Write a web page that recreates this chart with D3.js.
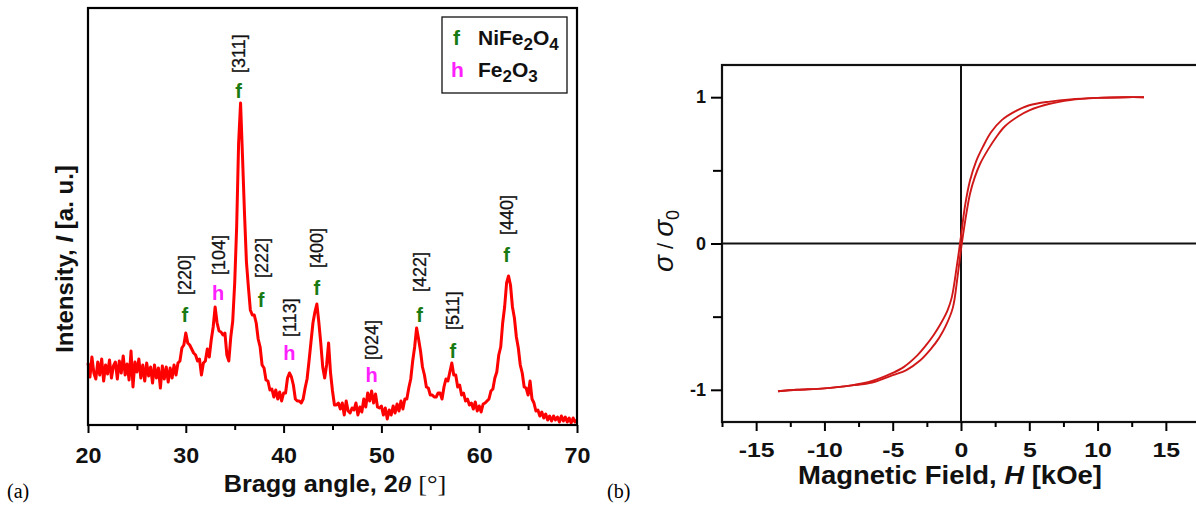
<!DOCTYPE html>
<html>
<head>
<meta charset="utf-8">
<script src="https://cdn.jsdelivr.net/npm/d3@7/dist/d3.min.js"></script>
<style>
  body { margin: 0; background: #fff; }
  svg { display: block; font-family: Arial, "Liberation Sans", sans-serif; }
</style>
</head>
<body>
<svg id="svg" width="1196" height="514"></svg>
<script>
// ---- data: XRD pattern, 2theta from 20 to 70 deg, step 0.2 ----
var xrdStart = 20, xrdStep = 0.2;
var xrdIntensity = [
  62,48,68,52,46,63,50,66,44,60,
  51,65,47,59,63,46,64,52,69,50,
  61,45,74,38,63,53,66,47,60,44,
  62,49,58,42,60,47,57,37,59,46,
  58,43,57,47,60,50,62,64,77,80,
  92,82,80,76,72,70,64,66,50,62,
  64,76,68,85,98,118,102,94,93,90,
  92,70,64,88,104,142,198,282,322,268,
  212,163,138,115,110,110,102,86,78,60,
  57,45,44,35,36,28,35,26,33,24,
  32,32,47,52,48,40,26,24,24,22,
  26,37,46,64,83,102,113,121,103,82,
  58,47,60,82,52,34,20,20,22,16,
  22,10,24,14,12,17,15,22,10,18,
  13,26,18,32,24,34,22,31,18,17,
  19,10,17,6,15,10,19,12,21,14,
  24,16,26,26,37,46,64,78,97,86,
  74,58,50,38,37,30,30,28,28,32,
  32,26,38,46,44,53,62,50,50,38,
  40,30,32,24,26,20,22,16,23,14,
  19,13,21,22,24,26,34,36,47,53,
  70,78,102,118,142,149,140,118,107,88,
  77,60,52,38,37,30,44,26,22,14,
  15,9,13,7,11,5,9,4,9,5,
  8,3,9,4,8,3,7,2,7,3,
  5
];
var xrdTicks = [20, 30, 40, 50, 60, 70];
var xrdMinor = [25, 35, 45, 55, 65];

// peak annotations
var peakHkl   = ["[220]", "[104]", "[311]", "[222]", "[113]", "[400]", "[024]", "[422]", "[511]", "[440]"];
var peakPhase = ["f", "h", "f", "f", "h", "f", "h", "f", "f", "f"];
var peakAngle = [29.9, 33.3, 35.4, 37.7, 40.6, 43.4, 49.0, 53.9, 57.3, 62.8];
var peakMark  = [103, 125, 327, 118, 65, 130, 43, 103, 67, 163];
var peakLabel = [130, 150, 352, 147, 88, 157, 65, 133, 95, 190];

// ---- data: hysteresis loop ----
var hDesc = [-13.4, -12, -10, -8, -6.5, -5, -4.2, -3.2, -2.6, -2.0, -1.5, -1.0, -0.68, -0.3, 0, 0.3, 0.66, 1.1, 1.6, 2.2, 3, 4, 5, 6.5, 8, 10, 12, 13.4];
var mDesc = [-1.01, -1.0, -0.99, -0.97, -0.94, -0.885, -0.845, -0.765, -0.7, -0.625, -0.55, -0.46, -0.37, -0.15, 0.05, 0.26, 0.43, 0.56, 0.66, 0.76, 0.845, 0.905, 0.945, 0.97, 0.985, 0.995, 1.0, 1.0];
var hAsc  = [-13.4, -12, -10, -8, -6.5, -5, -4, -3, -2.2, -1.6, -1.1, -0.6, -0.27, 0, 0.3, 0.66, 1.0, 1.4, 2.0, 2.6, 3.2, 4.2, 5, 6.5, 8, 10, 12, 13.4];
var mAsc  = [-1.01, -1.0, -0.99, -0.97, -0.95, -0.9, -0.865, -0.8, -0.72, -0.645, -0.56, -0.44, -0.24, -0.04, 0.15, 0.34, 0.45, 0.545, 0.645, 0.73, 0.8, 0.87, 0.91, 0.955, 0.98, 0.995, 1.0, 1.0];
var hTicks = [-15, -10, -5, 0, 5, 10, 15];
var hMinor = [-17.5, -12.5, -7.5, -2.5, 2.5, 7.5, 12.5, 17.5];
var mTicks = [-1, 0, 1];
var mMinor = [-0.5, 0.5];

var svg = d3.select("#svg");
var plain = function(d) { return String(d); };   // hyphen minus, no "1.0"

// ================= panel (a) =================
var xa = d3.scaleLinear().domain([20, 70]).range([88, 577]);
var ya = d3.scaleLinear().domain([0, 417]).range([425, 8]);

var xrd = xrdIntensity.map(function(v, i) { return [xrdStart + i * xrdStep, v]; });

svg.append("path")
    .datum(xrd)
    .attr("fill", "none")
    .attr("stroke", "#ff0000")
    .attr("stroke-width", 3)
    .attr("stroke-linejoin", "round")
    .attr("d", d3.line().x(function(d) { return xa(d[0]); }).y(function(d) { return ya(d[1]); }));

svg.append("rect")
    .attr("x", 88).attr("y", 8).attr("width", 489).attr("height", 417)
    .attr("fill", "none").attr("stroke", "#000").attr("stroke-width", 2.2);

var gxa = svg.append("g").attr("transform", "translate(0,425)")
    .call(d3.axisBottom(xa).tickValues(xrdTicks).tickSize(8).tickPadding(14).tickFormat(plain));
gxa.select(".domain").remove();
gxa.selectAll("line").attr("stroke-width", 2);
gxa.selectAll("text").attr("font-size", 22).attr("font-weight", "bold")
    .attr("font-family", "Arial, 'Liberation Sans', sans-serif").attr("fill", "#111")
    .attr("transform", "scale(1.06,1)");

var gxm = svg.append("g").attr("transform", "translate(0,425)")
    .call(d3.axisBottom(xa).tickValues(xrdMinor).tickSize(5).tickFormat(""));
gxm.select(".domain").remove();
gxm.selectAll("line").attr("stroke-width", 2);

// peak labels
var pk = svg.append("g");
peakHkl.forEach(function(t, i) {
  var px = xa(peakAngle[i]);
  pk.append("text")
      .attr("transform", "translate(" + (px + 6.5) + "," + ya(peakLabel[i]) + ") rotate(-90)")
      .attr("font-size", 18)
      .attr("fill", "#111")
      .attr("stroke", "#111").attr("stroke-width", 0.3)
      .text(t);
  pk.append("text")
      .attr("x", px).attr("y", ya(peakMark[i]))
      .attr("text-anchor", "middle")
      .attr("font-size", 20).attr("font-weight", "bold")
      .attr("fill", peakPhase[i] == "f" ? "#1a7a12" : "#ff20ff")
      .text(peakPhase[i]);
});

// legend
var lg = svg.append("g");
lg.append("rect").attr("x", 442).attr("y", 17).attr("width", 125).attr("height", 76)
    .attr("fill", "#fff").attr("stroke", "#111").attr("stroke-width", 1.3);
lg.append("text").attr("x", 453).attr("y", 45).attr("font-size", 21).attr("font-weight", "bold")
    .attr("fill", "#1a7a12").text("f");
lg.append("text").attr("x", 451).attr("y", 77).attr("font-size", 21).attr("font-weight", "bold")
    .attr("fill", "#ff20ff").text("h");
var l1 = lg.append("text").attr("x", 478).attr("y", 45).attr("font-size", 21).attr("font-weight", "bold").attr("fill", "#111");
l1.append("tspan").text("NiFe");
l1.append("tspan").attr("dy", 5).attr("font-size", 17).text("2");
l1.append("tspan").attr("dy", -5).text("O");
l1.append("tspan").attr("dy", 5).attr("font-size", 17).text("4");
var l2 = lg.append("text").attr("x", 478).attr("y", 77).attr("font-size", 21).attr("font-weight", "bold").attr("fill", "#111");
l2.append("tspan").text("Fe");
l2.append("tspan").attr("dy", 5).attr("font-size", 17).text("2");
l2.append("tspan").attr("dy", -5).text("O");
l2.append("tspan").attr("dy", 5).attr("font-size", 17).text("3");

// axis titles (a)
var xt = svg.append("text").attr("transform", "translate(335,492) scale(1.1,1)").attr("text-anchor", "middle")
    .attr("font-size", 23).attr("font-weight", "bold").attr("fill", "#111");
xt.append("tspan").text("Bragg angle, 2");
xt.append("tspan").attr("font-style", "italic").attr("font-family", "'Liberation Serif', serif").attr("font-size", 24).text("\u03B8");
xt.append("tspan").attr("font-weight", "normal").attr("font-family", "'Liberation Serif', serif").attr("font-size", 24).text(" [\u00B0]");

var yt = svg.append("text").attr("transform", "translate(73,259) rotate(-90)").attr("text-anchor", "middle")
    .attr("font-size", 24).attr("font-weight", "bold").attr("fill", "#111");
yt.append("tspan").text("Intensity, ");
yt.append("tspan").attr("font-style", "italic").text("I");
yt.append("tspan").text(" [a. u.]");

svg.append("text").attr("x", 7).attr("y", 498).attr("font-size", 20)
    .attr("font-family", "'Liberation Serif', 'Times New Roman', serif").text("(a)");

// ================= panel (b) =================
var xb = d3.scaleLinear().domain([-17.5, 17.5]).range([722, 1200]);
var yb = d3.scaleLinear().domain([-1.22, 1.22]).range([422, 65]);

var loop = d3.line().curve(d3.curveCatmullRom.alpha(0.5))
    .x(function(d) { return xb(d[0]); }).y(function(d) { return yb(d[1]); });

// zero lines
svg.append("line").attr("x1", xb(0)).attr("x2", xb(0)).attr("y1", yb.range()[1]).attr("y2", yb.range()[0])
    .attr("stroke", "#111").attr("stroke-width", 2);
svg.append("line").attr("x1", xb.range()[0]).attr("x2", xb.range()[1]).attr("y1", yb(0)).attr("y2", yb(0))
    .attr("stroke", "#111").attr("stroke-width", 2);

[[hDesc, mDesc], [hAsc, mAsc]].forEach(function(br) {
  var pts = br[0].map(function(h, i) { return [h, br[1][i]]; });
  svg.append("path").datum(pts)
      .attr("fill", "none")
      .attr("stroke", "#d01818")
      .attr("stroke-width", 1.9)
      .attr("d", loop);
});

svg.append("rect")
    .attr("x", 722).attr("y", 65).attr("width", 478).attr("height", 357)
    .attr("fill", "none").attr("stroke", "#111").attr("stroke-width", 2.2);

var gxb = svg.append("g").attr("transform", "translate(0,422)")
    .call(d3.axisBottom(xb).tickValues(hTicks).tickSize(9).tickPadding(11).tickFormat(plain));
gxb.select(".domain").remove();
gxb.selectAll("line").attr("stroke-width", 2);
gxb.selectAll("text").attr("font-size", 21).attr("font-weight", "bold").attr("fill", "#111")
    .attr("font-family", "Arial, 'Liberation Sans', sans-serif")
    .attr("transform", "scale(1.18,1)");

var gxbm = svg.append("g").attr("transform", "translate(0,422)")
    .call(d3.axisBottom(xb).tickValues(hMinor).tickSize(5).tickFormat(""));
gxbm.select(".domain").remove();
gxbm.selectAll("line").attr("stroke-width", 2);

var gyb = svg.append("g").attr("transform", "translate(722,0)")
    .call(d3.axisLeft(yb).tickValues(mTicks).tickSize(11).tickPadding(5).tickFormat(plain));
gyb.select(".domain").remove();
gyb.selectAll("line").attr("stroke-width", 2);
gyb.selectAll("text").attr("font-size", 18).attr("font-weight", "bold").attr("fill", "#111")
    .attr("font-family", "Arial, 'Liberation Sans', sans-serif");

var gybm = svg.append("g").attr("transform", "translate(722,0)")
    .call(d3.axisLeft(yb).tickValues(mMinor).tickSize(9).tickFormat(""));
gybm.select(".domain").remove();
gybm.selectAll("line").attr("stroke-width", 2);

var xtb = svg.append("text").attr("transform", "translate(950,484) scale(1.1,1)").attr("text-anchor", "middle")
    .attr("font-size", 25).attr("font-weight", "bold").attr("fill", "#111");
xtb.append("tspan").text("Magnetic Field, ");
xtb.append("tspan").attr("font-style", "italic").text("H");
xtb.append("tspan").text(" [kOe]");

var ytb = svg.append("text").attr("transform", "translate(673,241) rotate(-90)").attr("text-anchor", "middle")
    .attr("font-size", 28).attr("fill", "#111");
ytb.append("tspan").attr("font-style", "italic").text("\u03C3");
ytb.append("tspan").attr("font-size", 22).text(" / ");
ytb.append("tspan").attr("font-style", "italic").text("\u03C3");
ytb.append("tspan").attr("dy", 6).attr("font-size", 18).text("0");

svg.append("text").attr("x", 607).attr("y", 498).attr("font-size", 20)
    .attr("font-family", "'Liberation Serif', 'Times New Roman', serif").text("(b)");
</script>
</body>
</html>
